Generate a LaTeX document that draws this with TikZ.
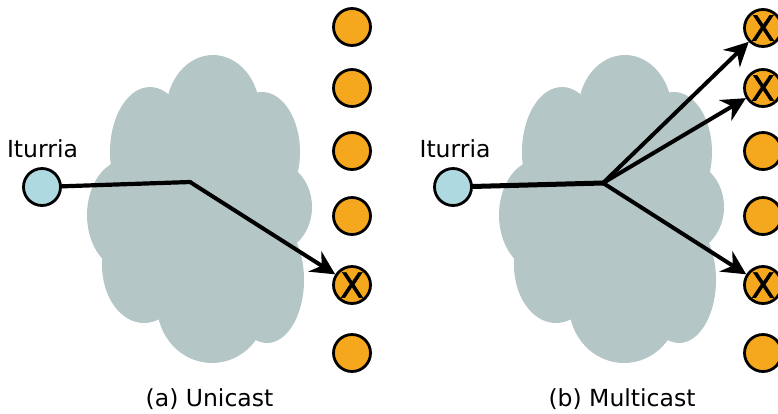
\documentclass[tikz,border=0pt]{standalone}
\usepackage{fontspec}
\setmainfont{DejaVu Sans}
\newfontfamily\xmarkfont[FakeBold=1.3]{DejaVu Sans}
\usetikzlibrary{arrows.meta}
\definecolor{cloudc}{HTML}{B4C7C6}
\definecolor{orangec}{HTML}{F5A81D}
\definecolor{srcc}{HTML}{AED9E1}
\tikzset{
  dest/.style={circle, draw=black, line width=2.8pt, fill=orangec, minimum size=37pt, inner sep=0pt, font=\xmarkfont\fontsize{35}{35}\selectfont},
  src/.style={circle, draw=black, line width=2.8pt, fill=srcc, minimum size=37pt, inner sep=0pt},
  lbl/.style={anchor=base, inner sep=0pt, font=\fontsize{23.5}{28}\selectfont},
  arr/.style={line width=4pt, -{Stealth[length=24pt, width=24pt, inset=8pt]}},
  seg/.style={line width=4.2pt, line cap=round},
  cloudfill/.style={fill=cloudc, draw=none}
}
\newcommand{\mycloudshape}{%
  \fill[cloudfill] (213,112) ellipse [x radius=47, y radius=57];
  \fill[cloudfill] (150,152) ellipse [x radius=40, y radius=65];
  \fill[cloudfill] (262,152) ellipse [x radius=38, y radius=60];
  \fill[cloudfill] (126,215) ellipse [x radius=39, y radius=55];
  \fill[cloudfill] (274,207) ellipse [x radius=38, y radius=45];
  \fill[cloudfill] (144,265) ellipse [x radius=42, y radius=58];
  \fill[cloudfill] (212,305) ellipse [x radius=55, y radius=58];
  \fill[cloudfill] (267,280) ellipse [x radius=37, y radius=63];
  \fill[cloudfill] (205,210) ellipse [x radius=85, y radius=110];
}
\begin{document}
\begin{tikzpicture}[x=1pt, y=-1pt]
\useasboundingbox (0,0) rectangle (778,413);
% clouds
\mycloudshape
\begin{scope}[xshift=412pt]
\mycloudshape
\end{scope}
% left panel
\node[src] (s1) at (42,187) {};
\node[lbl] (t1) at (42.5,157) {Iturria};
\node[dest] (a1) at (352,27) {};
\node[dest] (a2) at (352,88) {};
\node[dest] (a3) at (352,151) {};
\node[dest] (a4) at (352,216) {};
\node[dest] (a5) at (352,285) {X};
\node[dest] (a6) at (352,353) {};
\coordinate (j1) at (190,182);
\draw[seg] (s1) -- (j1);
\draw[arr] (j1) -- (a5);
\node[lbl] (c1) at (209.5,406) {(a) Unicast};
% right panel
\node[src] (s2) at (453,187) {};
\node[lbl] (t2) at (455,157) {Iturria};
\node[dest] (b1) at (763,28) {X};
\node[dest] (b2) at (763,88) {X};
\node[dest] (b3) at (763,151) {};
\node[dest] (b4) at (763,216) {};
\node[dest] (b5) at (763,285) {X};
\node[dest] (b6) at (763,353) {};
\coordinate (j2) at (603,183);
\draw[seg, line width=5pt] (s2) -- (j2);
\draw[arr] (j2) -- (b1);
\draw[arr] (j2) -- (b2);
\draw[arr] (j2) -- (b5);
\node[lbl] (c2) at (622,406) {(b) Multicast};
\end{tikzpicture}
\end{document}
